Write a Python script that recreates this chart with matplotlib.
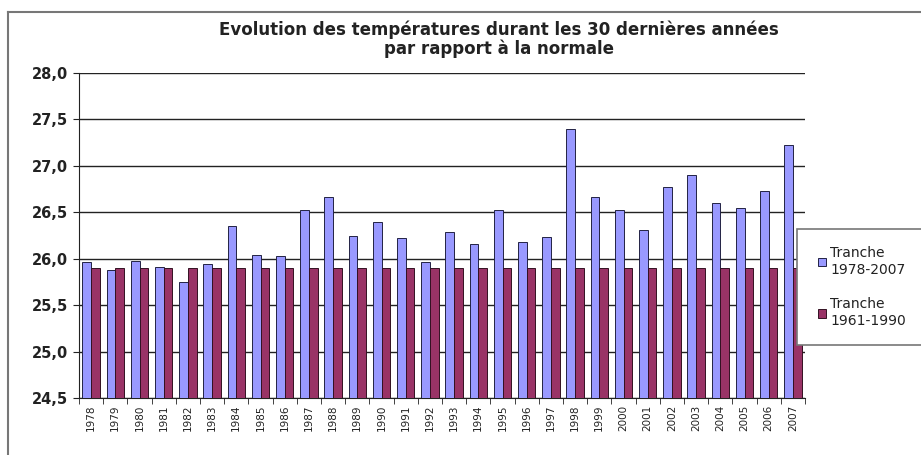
import matplotlib.pyplot as plt
import numpy as np
from matplotlib.patches import Rectangle
from matplotlib.lines import Line2D

plt.rcParams['font.family'] = ['DejaVu Sans']

years = list(range(1978, 2008))
tranche_1978_2007 = [25.97, 25.88, 25.98, 25.91, 25.75, 25.94, 26.35, 26.04, 26.03, 26.52,
                     26.66, 26.25, 26.40, 26.22, 25.96, 26.29, 26.16, 26.52, 26.18, 26.23,
                     27.40, 26.66, 26.53, 26.31, 26.77, 26.90, 26.60, 26.55, 26.73, 27.22]
tranche_1961_1990 = [25.9] * 30
yticks = [24.5, 25.0, 25.5, 26.0, 26.5, 27.0, 27.5, 28.0]
labels = ['Tranche\n1978-2007', 'Tranche\n1961-1990']

W, H = 921, 455
fig = plt.figure(figsize=(W / 100, H / 100), dpi=100)
ax = fig.add_axes([79 / W, 1 - 398 / H, (805 - 79) / W, (398 - 73) / H])

x = np.arange(len(years))
bw = 0.36
b1 = ax.bar(x - bw / 2, tranche_1978_2007, bw, color='#9999FF',
            edgecolor='#222244', linewidth=0.7, zorder=3)
b2 = ax.bar(x + bw / 2, tranche_1961_1990, bw, color='#993366',
            edgecolor='#331122', linewidth=0.7, zorder=3)

ax.set_ylim(24.5, 28.0)
ax.set_xlim(-0.5, len(years) - 0.5)
ax.set_yticks(yticks)
ax.set_yticklabels([f'{v:.1f}'.replace('.', ',') for v in yticks],
                   fontsize=10.5, fontweight='bold', color='#222222')
ax.grid(axis='y', color='#222222', linewidth=1.0, zorder=0)

ax.set_xticks(x)
ax.set_xticklabels(years, rotation=90, fontsize=7.5, color='#222222')
ax.set_xticks(np.arange(-0.5, len(years)), minor=True)
ax.tick_params(axis='x', which='major', length=0, pad=5)
ax.tick_params(axis='x', which='minor', length=4, direction='out', color='#222222')
ax.tick_params(axis='y', length=4, color='#222222', pad=4)
for s in ['top', 'right']:
    ax.spines[s].set_visible(False)
for s in ['left', 'bottom']:
    ax.spines[s].set_color('#222222')

fig.text(499 / W, 1 - 30 / H, 'Evolution des températures durant les 30 dernières années',
         ha='center', va='center', fontsize=12, fontweight='bold', color='#222222')
fig.text(499 / W, 1 - 49 / H, 'par rapport à la normale',
         ha='center', va='center', fontsize=12, fontweight='bold', color='#222222')

# outer frame (top and left edges)
fig.add_artist(Line2D([8 / W, 1.0], [1 - 12 / H, 1 - 12 / H], color='#777777', lw=1.5))
fig.add_artist(Line2D([8 / W, 8 / W], [0, 1 - 12 / H], color='#777777', lw=1.5))

# legend box sitting over the plot
box = Rectangle((797 / W, 1 - 345 / H), (W - 797 + 10) / W, (345 - 229) / H,
                transform=fig.transFigure, facecolor='white', edgecolor='#777777',
                lw=1.2, zorder=4)
fig.add_artist(box)
leg = fig.legend([b1, b2], labels, loc='center left',
                 bbox_to_anchor=(805 / W, 1 - 287 / H), frameon=False,
                 fontsize=10, handlelength=0.6, handleheight=0.6, handletextpad=0.3,
                 labelspacing=1.5, labelcolor='#222222')
leg.set_zorder(5)

fig.savefig('out.png', dpi=100)
